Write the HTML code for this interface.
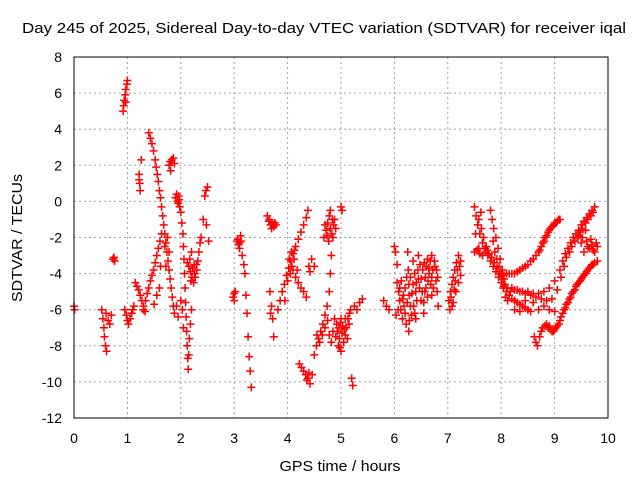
<!DOCTYPE html>
<html><head><meta charset="utf-8"><style>
body{margin:0;background:#fff}
svg{display:block;font-family:"Liberation Sans",sans-serif}
</style></head><body>
<svg id="chart" width="640" height="480" viewBox="0 0 640 480">
<rect width="640" height="480" fill="#fff"/>
<text x="324" y="33" font-size="15" text-anchor="middle" textLength="604" lengthAdjust="spacingAndGlyphs">Day 245 of 2025, Sidereal Day-to-day VTEC variation (SDTVAR) for receiver iqal</text>
<g id="grid"></g>
<g id="points"></g>
<rect x="74" y="57" width="534" height="361" fill="none" stroke="#000" stroke-width="1"/>
<g id="ticks"></g>
<text x="340" y="471" font-size="15" text-anchor="middle" textLength="121" lengthAdjust="spacingAndGlyphs">GPS time / hours</text>
<text x="0" y="0" font-size="15" text-anchor="middle" textLength="128" lengthAdjust="spacingAndGlyphs" transform="translate(22,238) rotate(-90)">SDTVAR / TECUs</text>
</svg>
<script>
const xTicks=[0,1,2,3,4,5,6,7,8,9,10];
const yTicks=[-12,-10,-8,-6,-4,-2,0,2,4,6,8];
const trackA=[[0,-5.8],[0.01,-6],[0.52,-6],[0.54,-6.5],[0.56,-7],[0.57,-7.5],[0.59,-8],[0.61,-8.3],[0.6,-6.2],[0.64,-6.6],[0.67,-6.8],[0.7,-6.3],[0.73,-3.2],[0.76,-3.3],[0.75,-3.1]];
const trackB=[[0.92,5],[0.93,5.3],[0.94,5.6],[0.96,5.9],[0.97,6.2],[0.99,6.5],[1.0,6.7],[0.97,5.5],[0.95,-6],[0.98,-6.3],[1.0,-6.6],[1.02,-6.8],[1.05,-6.5],[1.08,-6.2],[1.1,-6],[1.12,-5.8]];
const trackC=[[1.15,-4.5],[1.18,-4.7],[1.21,-4.9],[1.24,-5.2],[1.27,-5.5],[1.3,-5.8],[1.33,-6.1],[1.22,1.5],[1.23,1.0],[1.24,0.6],[1.26,2.3],[1.22,1.2],[1.3,-6],[1.34,-5.5],[1.37,-5.1],[1.4,-4.8],[1.43,-4.4],[1.46,-4.1],[1.49,-3.8],[1.52,-3.4],[1.55,-3],[1.58,-2.6],[1.61,-2.2],[1.64,-1.8],[1.55,-5.2],[1.6,-4.8],[1.62,-3.6],[1.5,-5.7]];
const trackD=[[1.4,3.8],[1.43,3.5],[1.46,3.2],[1.49,2.8],[1.52,2.3],[1.54,1.9],[1.56,1.5],[1.58,1.1],[1.6,0.6],[1.62,0.2],[1.64,-0.3],[1.66,-0.8],[1.68,-1.3],[1.7,-1.8],[1.72,-2.3],[1.74,-2.8],[1.76,-3.3],[1.78,-3.8],[1.8,-4.3],[1.82,-4.8],[1.84,-5.3],[1.86,-5.8],[1.88,-6.2],[1.7,-2.5],[1.75,-2],[1.78,-2.8],[1.72,-3.6]];
const trackE=[[1.78,2],[1.8,2.2],[1.83,2.3],[1.86,2.4],[1.88,2.1],[1.81,1.7],[1.9,0.2],[1.92,0.4],[1.94,0],[1.96,0.3],[1.98,-0.3],[2.0,-0.6],[2.02,-1.2],[2.04,-1.8],[2.05,-2.5],[2.06,-3.2],[2.07,-4],[2.08,-4.8],[2.09,-5.6],[2.1,-6.4],[2.11,-7.2],[2.12,-8],[2.13,-8.7],[2.14,-9.3],[2.05,-7],[2.03,-6],[2.0,-5.5],[1.95,-0.1],[1.97,0.1],[2.15,-8.5],[2.16,-7.6],[2.18,-6.8],[2.2,-6],[1.92,-5.8],[1.95,-6.4]];
const trackF=[[2.12,-3.4],[2.15,-3.6],[2.18,-3.9],[2.21,-4.2],[2.24,-4.5],[2.27,-4.2],[2.3,-3.8],[2.32,-3.3],[2.34,-2.8],[2.36,-2.3],[2.38,-2],[2.42,-1],[2.45,0.3],[2.47,0.6],[2.5,0.8],[2.48,-1.3],[2.52,-2.2],[2.2,-2.8],[2.25,-3.5],[2.17,-3.2],[2.22,-3.7],[2.26,-4],[2.29,-3.5],[2.19,-4.4]];
const trackG=[[2.98,-5.3],[3.0,-5.5],[3.02,-5],[3.05,-2.2],[3.08,-2.4],[3.1,-2.6],[3.13,-2.2],[3.15,-3],[3.18,-3.5],[3.2,-4],[3.22,-5.2],[3.24,-6.2],[3.26,-7.5],[3.28,-8.6],[3.3,-9.4],[3.32,-10.3],[3.12,-1.9],[3.07,-2.1],[3.1,-2.3],[3.0,-5.1]];
const trackH=[[3.62,-0.8],[3.65,-1.1],[3.68,-1.3],[3.7,-1.5],[3.73,-1.3],[3.76,-1.2],[3.67,-5],[3.7,-5.8],[3.72,-6.5],[3.74,-7.5],[3.68,-6.2],[3.66,-1],[3.71,-1.2],[3.74,-1.4],[3.78,-1.3]];
const trackI=[[3.82,-6],[3.86,-5.5],[3.9,-5],[3.94,-4.6],[3.98,-4.1],[4.02,-3.7],[4.06,-3.3],[4.1,-2.9],[4.15,-2.5],[4.2,-2.1],[4.25,-1.7],[4.3,-1.3],[4.35,-0.9],[4.38,-0.5],[4.05,-4],[4.08,-3.6],[4.12,-3.2],[4.15,-4.2],[4.18,-3.8],[4.2,-4.5],[4.25,-4.8],[4.3,-5],[4.35,-5.3],[4.4,-3.6],[4.45,-3.2],[4.5,-3.6],[4.0,-4.4],[4.03,-3.2],[4.07,-2.8],[4.1,-3.8],[4.13,-2.7],[3.95,-5.5],[4.42,-3.9]];
const trackJ=[[4.22,-9],[4.26,-9.2],[4.3,-9.4],[4.34,-9.6],[4.38,-9.8],[4.42,-10.1],[4.46,-9.6],[4.5,-8.5],[4.54,-8],[4.58,-7.6],[4.62,-7.2],[4.66,-6.8],[4.7,-6.3],[4.74,-5.8],[4.78,-5],[4.8,-4],[4.82,-3],[4.85,-2],[4.88,-1],[4.55,-7.4],[4.6,-7.8],[4.65,-7.4],[4.7,-7],[4.75,-6.6],[4.78,-7.4],[4.82,-7.8],[4.85,-7.2],[4.36,-9.9],[4.4,-9.5]];
const trackK=[[4.68,-2],[4.72,-1.6],[4.75,-1.2],[4.78,-0.8],[4.8,-1.5],[4.83,-1.8],[4.86,-1.3],[4.8,-0.5],[5.0,-0.3],[5.02,-0.5],[4.7,-1.3],[4.74,-1.9],[4.77,-2.2],[4.84,-1],[4.9,-1.5]];
const trackL=[[4.9,-7.5],[4.93,-7.2],[4.96,-7],[4.99,-6.7],[5.02,-7.3],[5.05,-7.8],[5.08,-7.4],[5.1,-7],[5.13,-6.5],[5.16,-6.2],[5.18,-6],[4.95,-8],[5.0,-8.3],[4.88,-6.5],[5.2,-9.8],[5.22,-10.2],[5.25,-5.8],[5.3,-6],[5.35,-5.6],[5.4,-5.4],[4.92,-6.8],[4.97,-7.6],[5.03,-6.9],[5.06,-7.1],[5.12,-7.6],[5.15,-6.8],[4.98,-8.1],[5.08,-6.5],[5.0,-6.5]];
const trackM=[[5.8,-5.5],[5.85,-5.8],[5.9,-6],[6.0,-2.5],[6.02,-2.8],[6.05,-3.5],[6.05,-4.5],[6.08,-5],[6.1,-5.5],[6.12,-6],[6.15,-6.5],[6.18,-5.8],[6.2,-4.8],[6.23,-4.2],[6.26,-3.8],[6.28,-5.2],[6.3,-5.8],[6.32,-6.3],[6.35,-4.6],[6.38,-4],[6.4,-5],[6.42,-5.5],[6.45,-3],[6.48,-3.5],[6.5,-4.3],[6.52,-5],[6.55,-5.6],[6.58,-4.2],[6.6,-3.6],[6.62,-3.2],[6.65,-4],[6.68,-4.6],[6.7,-5.2],[6.72,-3.8],[6.75,-3.3],[6.78,-4.4],[6.8,-5],[6.82,-5.8],[6.22,-6.8],[6.27,-7.2],[6.4,-6.5],[6.55,-6.2],[6.7,-3],[6.35,-3.3],[6.25,-2.8]];
const trackM2=[[6.03,-6.3],[6.07,-6],[6.1,-4.8],[6.13,-4.4],[6.17,-5.2],[6.2,-6.2],[6.24,-5.6],[6.27,-4.6],[6.3,-4.2],[6.33,-5.1],[6.36,-5.8],[6.38,-6.2],[6.41,-4.5],[6.44,-3.8],[6.47,-4.8],[6.5,-5.5],[6.53,-3.8],[6.56,-3.4],[6.59,-4.8],[6.62,-5.3],[6.64,-3.7],[6.67,-3.3],[6.7,-4.2],[6.73,-4.8],[6.76,-3.6],[6.79,-3.8],[6.81,-4.2],[6.63,-4.4],[6.45,-4.3],[6.28,-6.6],[6.15,-5.4],[6.57,-5]];
const trackN=[[7.02,-5.5],[7.05,-5],[7.08,-4.6],[7.1,-4.2],[7.13,-3.8],[7.16,-3.4],[7.2,-3],[7.24,-3.3],[7.04,-6],[7.1,-5.6],[7.15,-5],[7.2,-4.5],[7.06,-5.3],[7.12,-4.9],[7.18,-3.8],[7.22,-3.6],[7.08,-5.8],[7.14,-4.4],[7.24,-4.1]];
const trackO=[[7.5,-0.3],[7.53,-0.8],[7.56,-1.3],[7.6,-1.8],[7.65,-2.3],[7.7,-2.8],[7.75,-3],[7.8,-3.3],[7.85,-3.6],[7.9,-3.9],[7.95,-4.2],[8.0,-4.5],[8.05,-4.7],[8.1,-5],[8.15,-5.2],[8.2,-5.4],[8.3,-5.6],[8.4,-5.8],[8.5,-6],[8.55,-6.1],[7.8,-0.5],[7.83,-1],[7.86,-1.5],[7.9,-2],[7.94,-2.6],[7.98,-3.2],[8.02,-3.8],[8.05,-4.3],[7.5,-2.8],[7.55,-2.7],[7.6,-2.9],[7.65,-3],[7.7,-2.6],[7.62,-0.6],[7.52,-1.8]];
const trackO2=[[7.58,-1],[7.63,-1.5],[7.67,-2],[7.72,-2.5],[7.77,-2.9],[7.82,-3.1],[7.87,-3.4],[7.92,-3.7],[7.97,-4],[8.02,-4.3],[8.07,-4.6],[8.12,-4.8],[8.17,-5],[8.25,-5.5],[8.35,-5.7],[8.45,-5.9],[7.88,-2.8],[7.92,-3.2],[7.96,-3.6],[8.0,-4],[8.04,-4.8],[8.08,-5.3],[8.12,-5.5],[7.74,-2.7],[7.58,-2.6],[8.25,-6],[8.35,-6.1],[8.45,-5.5],[8.6,-5.6],[7.85,-2.2]];
const trackP=[[8.0,-4],[8.1,-4],[8.2,-4],[8.3,-3.9],[8.4,-3.7],[8.5,-3.5],[8.6,-3.2],[8.7,-2.8],[8.75,-2.5],[8.8,-2.2],[8.85,-1.9],[8.9,-1.6],[8.95,-1.4],[9.0,-1.2],[9.05,-1.1],[9.1,-1],[8.05,-4.1],[8.15,-4],[8.25,-4],[8.35,-3.8],[8.45,-3.6],[8.55,-3.3],[8.65,-3],[8.72,-2.7],[8.78,-2.3],[8.82,-2],[8.88,-1.7],[8.92,-1.5],[8.98,-1.3],[9.03,-1.2],[9.08,-1]];
const trackQ=[[8.2,-4.8],[8.3,-4.9],[8.4,-5],[8.5,-5],[8.6,-5.1],[8.7,-5.1],[8.8,-5],[8.9,-4.8],[9.0,-4.4],[9.1,-3.8],[9.15,-3.3],[9.2,-2.9],[9.25,-2.6],[9.3,-2.3],[9.35,-2],[9.4,-1.8],[9.45,-1.6],[9.5,-1.3],[9.55,-1.1],[9.6,-0.9],[9.65,-0.7],[9.7,-0.5],[9.75,-0.3],[8.9,-6],[9.0,-6.1],[8.8,-5.8],[8.7,-6],[8.25,-4.9],[8.35,-5],[8.45,-5.1],[8.55,-5.2],[8.65,-5.3],[8.75,-5.4],[8.85,-5.5],[8.95,-5.4],[9.05,-4.9],[9.12,-4.2],[9.18,-3.6],[9.22,-3.1],[9.28,-2.8],[9.32,-2.5],[9.38,-2.2],[9.42,-2],[9.48,-1.7],[9.52,-1.5],[9.58,-1.2],[9.62,-1],[9.68,-0.8],[9.72,-0.6]];
const trackR=[[8.62,-7.5],[8.65,-7.8],[8.68,-8],[8.72,-7.5],[8.78,-7],[8.85,-6.8],[8.9,-6.9],[8.95,-7.2],[9.0,-7.1],[9.05,-6.9],[9.1,-6.6],[9.15,-6.2],[9.2,-5.9],[9.25,-5.6],[9.3,-5.3],[9.35,-5],[9.4,-4.7],[9.45,-4.5],[9.5,-4.3],[9.55,-4.1],[9.6,-3.9],[9.65,-3.7],[9.7,-3.5],[9.75,-3.4],[9.8,-3.3],[8.75,-7.2],[8.82,-6.9],[8.88,-7],[8.92,-7.1],[8.98,-7.2],[9.02,-7],[9.08,-6.8],[9.12,-6.4],[9.18,-6],[9.22,-5.7],[9.28,-5.4],[9.32,-5.1],[9.38,-4.9],[9.42,-4.6],[9.48,-4.4],[9.52,-4.2],[9.58,-4],[9.62,-3.8],[9.68,-3.6],[9.72,-3.5]];
const trackS=[[9.45,-1.9],[9.5,-2.3],[9.55,-2.8],[9.6,-2.2],[9.65,-2.6],[9.7,-2.4],[9.75,-2.8],[9.8,-2.5],[9.58,-1.6],[9.52,-2],[9.62,-2.5],[9.68,-2.1],[9.72,-2.7],[9.78,-2.3]];
const allTracks=[trackA,trackB,trackC,trackD,trackE,trackF,trackG,trackH,trackI,trackJ,trackK,trackL,trackM,trackM2,trackN,trackO,trackO2,trackP,trackQ,trackR,trackS];

const X0=74,X1=608,Y0=418,Y1=57;
function xs(t){return X0+(t-0)/(10-0)*(X1-X0);}
function ys(v){return Y0-(v-(-12))/(8-(-12))*(Y0-Y1);}
const NS='http://www.w3.org/2000/svg';
const grid=document.getElementById('grid'),ticks=document.getElementById('ticks'),pts=document.getElementById('points');
xTicks.forEach(t=>{
  const x=xs(t);
  if(t>0&&t<10){const g=document.createElementNS(NS,'line');
  g.setAttribute('x1',x);g.setAttribute('x2',x);g.setAttribute('y1',Y1);g.setAttribute('y2',Y0);
  g.setAttribute('stroke','#a0a0a0');g.setAttribute('stroke-dasharray','2,3');
  
  
  grid.appendChild(g);}
  const l=document.createElementNS(NS,'text');
  l.setAttribute('x',x);l.setAttribute('y',443);l.setAttribute('font-size','14');l.setAttribute('text-anchor','middle');
  l.textContent=t;
  
  
  ticks.appendChild(l);
});
yTicks.forEach(v=>{
  const y=ys(v);
  if(v>-12&&v<8){const g=document.createElementNS(NS,'line');
  g.setAttribute('x1',X0);g.setAttribute('x2',X1);g.setAttribute('y1',y);g.setAttribute('y2',y);
  g.setAttribute('stroke','#a0a0a0');g.setAttribute('stroke-dasharray','2,3');
  
  
  grid.appendChild(g);}
  const l=document.createElementNS(NS,'text');
  l.setAttribute('x',62);l.setAttribute('y',y+5);l.setAttribute('font-size','14');l.setAttribute('text-anchor','end');
  l.textContent=v;
  
  
  ticks.appendChild(l);
});
allTracks.forEach(tr=>{
  let d='';
  tr.forEach(p=>{const x=xs(p[0]),y=ys(p[1]);d+=`M${x-4},${y}h8M${x},${y-4}v8`;});
  const path=document.createElementNS(NS,'path');
  path.setAttribute('d',d);path.setAttribute('stroke','#ff0000');path.setAttribute('stroke-width','1.5');path.setAttribute('fill','none');
  
  
  pts.appendChild(path);
});
</script>
</body></html>
